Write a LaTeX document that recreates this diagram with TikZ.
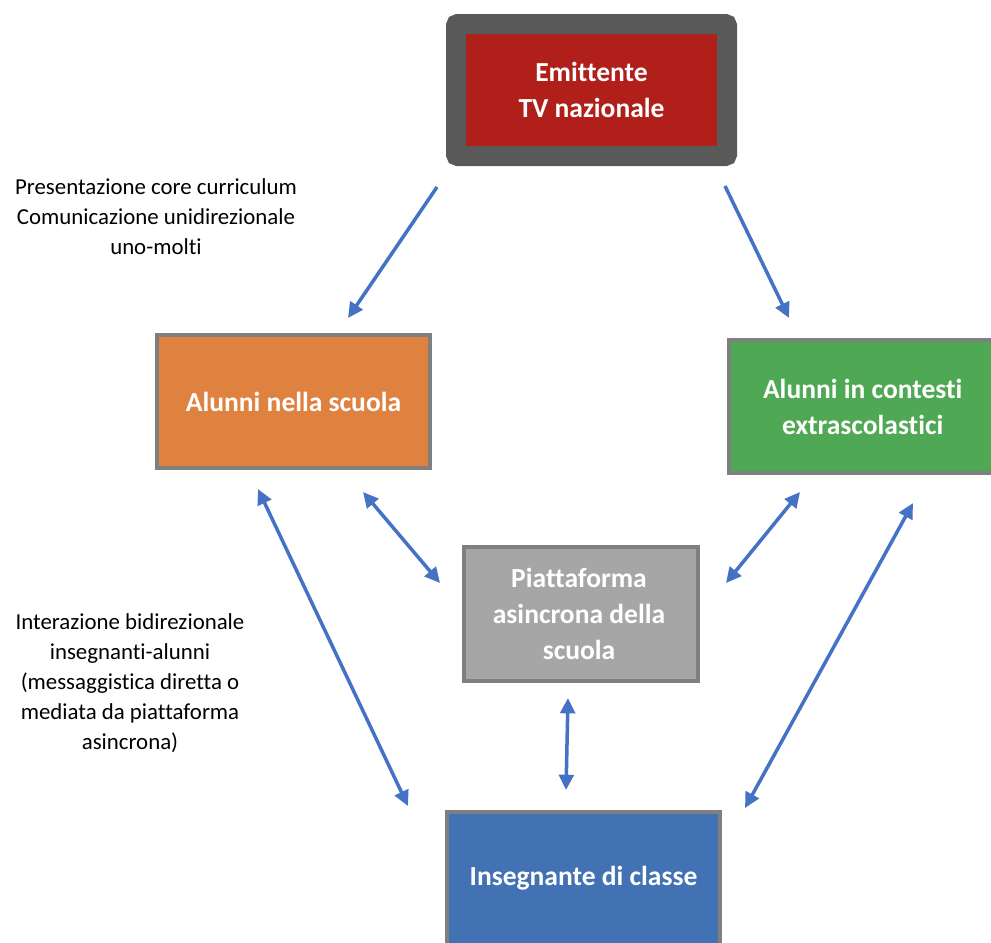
\documentclass[tikz,border=0pt]{standalone}
\usepackage{fontspec}
\setmainfont{Carlito}[Ligatures=CommonOff]
\usetikzlibrary{arrows.meta}

\definecolor{tvred}{HTML}{B01F1A}
\definecolor{tvframe}{HTML}{595959}
\definecolor{boxframe}{HTML}{7F7F7F}
\definecolor{schoolorange}{HTML}{E0823F}
\definecolor{extragreen}{HTML}{4FA853}
\definecolor{platgray}{HTML}{A6A6A6}
\definecolor{teachblue}{HTML}{4272B4}
\definecolor{linkblue}{HTML}{4472C4}

\begin{document}
\begin{tikzpicture}
  [x=0.3mm,y=-0.3mm,
   actor/.style={draw=boxframe,line width=1.2mm,align=center,text=white,
     font=\fontsize{23.5}{30.7}\selectfont\bfseries,
     minimum width=82mm,minimum height=40mm,inner sep=0pt},
   note/.style={align=center,font=\fontsize{19.5}{25.6}\selectfont,inner sep=0pt},
   link/.style={draw=linkblue,line width=1.05mm,-{Triangle[length=4.6mm,width=4.4mm]}},
   twoway/.style={link,{Triangle[length=4.6mm,width=4.4mm]}-{Triangle[length=4.6mm,width=4.4mm]}}]
  \clip (0,0) rectangle (991,942);
  \fill[white] (0,0) rectangle (991,942);

  \node[actor,draw=tvframe,fill=tvred,line width=6mm,rounded corners=0.6mm,
    minimum width=81.3mm,minimum height=39.6mm] (tv) at (591.5,90) {Emittente\\TV nazionale};
  \node[actor,fill=schoolorange] (scuola) at (293.5,401.5) {Alunni nella scuola};
  \node[actor,fill=extragreen,minimum width=82.2mm] (extra) at (866,406.5) {\hspace*{-2mm}Alunni in contesti\\\hspace*{-2mm}extrascolastici};
  \node[actor,fill=platgray,minimum width=70.2mm] (piatt) at (581,614) {\hspace*{-1.2mm}Piattaforma\\\hspace*{-1.2mm}asincrona della\\\hspace*{-1.2mm}scuola};
  \node[actor,fill=teachblue] (insegn) at (583.5,878.5) {Insegnante di classe};

  \node[note] (unidir) at (156,217) {Presentazione core curriculum\\Comunicazione unidirezionale\\uno-molti};
  \node[note] (bidir) at (130,683.5) {Interazione bidirezionale\\insegnanti-alunni\\(messaggistica diretta o\\mediata da piattaforma\\asincrona)};

  \coordinate (tvL) at (437,187);
  \coordinate (scT) at (348,318);
  \coordinate (tvR) at (725,186);
  \coordinate (exT) at (789,318);
  \coordinate (scB) at (363,492);
  \coordinate (plL) at (440,583);
  \coordinate (exB) at (800,492);
  \coordinate (plR) at (726,583);
  \coordinate (plB) at (568,698);
  \coordinate (inT) at (566,790);
  \coordinate (scF) at (258,489);
  \coordinate (inL) at (408,806);
  \coordinate (exF) at (913,503);
  \coordinate (inR) at (745,808);

  \foreach \from/\to in {tvL/scT,tvR/exT}
    \draw[link] (\from) -- (\to);
  \foreach \from/\to in {scB/plL,exB/plR,plB/inT,scF/inL,exF/inR}
    \draw[twoway] (\from) -- (\to);
\end{tikzpicture}
\end{document}
